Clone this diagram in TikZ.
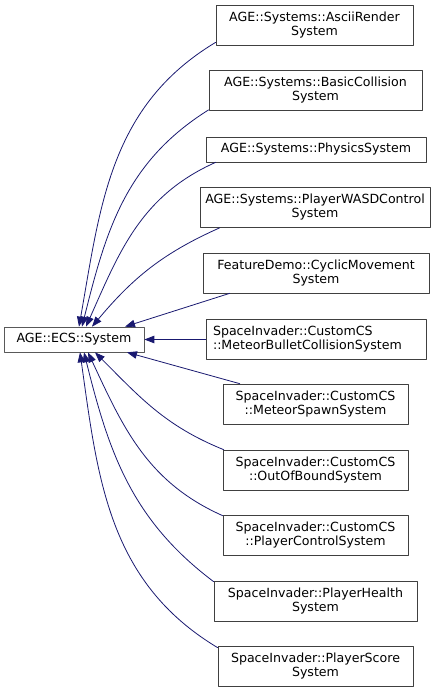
\documentclass[tikz,border=0pt]{standalone}
\usepackage{fontspec}
\setmainfont{DejaVu Sans}
\usetikzlibrary{arrows.meta}
\definecolor{edgeblue}{HTML}{191970}
\newcommand{\classfont}{\fontsize{12.6}{14}\selectfont}
\tikzset{
  cls/.style={draw=black!75,line width=0.7pt,fill=white,inner sep=1pt,
    font=\classfont,align=center,minimum height=40pt},
  inh/.style={draw=edgeblue,line width=0.8pt,
    -{Triangle[length=10pt,width=7.5pt]}}
}
\begin{document}
\begin{tikzpicture}[x=1pt,y=1pt,line cap=round,line join=round]
  \useasboundingbox (0,0) rectangle (445,-692);
  % base class
  \node[cls,draw=black!65,minimum width=140pt,minimum height=25pt] (base) at (74,-339.5) {AGE::ECS::System};
  % derived classes
  \node[cls,minimum width=197pt] (ascii) at (314.5,-25) {AGE::Systems::AsciiRender\\System};
  \node[cls,minimum width=213pt] (basic) at (315.5,-90.5) {AGE::Systems::BasicCollision\\System};
  \node[cls,minimum width=220pt,minimum height=25pt] (physics) at (316,-149.5) {AGE::Systems::PhysicsSystem};
  \node[cls,minimum width=230pt] (wasd) at (315,-207.5) {AGE::Systems::PlayerWASDControl\\System};
  \node[cls,minimum width=226pt] (cyclic) at (316,-273) {FeatureDemo::CyclicMovement\\System};
  \node[cls,minimum width=220pt,align=left,text width=206pt] (bullet) at (316,-339.5) {SpaceInvader::CustomCS\\::MeteorBulletCollisionSystem};
  \node[cls,minimum width=185pt] (spawn) at (315.5,-404) {SpaceInvader::CustomCS\\::MeteorSpawnSystem};
  \node[cls,minimum width=185pt] (bound) at (315.5,-470) {SpaceInvader::CustomCS\\::OutOfBoundSystem};
  \node[cls,minimum width=185pt] (control) at (315.5,-535) {SpaceInvader::CustomCS\\::PlayerControlSystem};
  \node[cls,minimum width=203pt] (health) at (315.5,-601) {SpaceInvader::PlayerHealth\\System};
  \node[cls,minimum width=195pt] (score) at (315.5,-666) {SpaceInvader::PlayerScore\\System};
  % inheritance edges
  \draw[inh] ([yshift=3pt]ascii.south west) to[out=211,in=80] ([xshift=5pt]base.north);
  \draw[inh] ([yshift=1pt]basic.south west) to[out=212,in=76] ([xshift=8pt]base.north);
  \draw[inh] ([xshift=10pt]physics.south west) to[out=204,in=66] ([xshift=12pt]base.north);
  \draw[inh] ([xshift=20pt]wasd.south west) to[out=204,in=50] ([xshift=18pt]base.north);
  \draw[inh] ([xshift=27pt]cyclic.south west) -- ([xshift=51pt]base.north);
  \draw[inh] (bullet.west) -- (base.east);
  \draw[inh] ([xshift=17pt]spawn.north west) -- ([xshift=53pt]base.south);
  \draw[inh] ([xshift=1pt]bound.north west) to[out=158,in=-45] ([xshift=21pt]base.south);
  \draw[inh] ([yshift=-1pt]control.north west) to[out=156,in=-65] ([xshift=14pt]base.south);
  \draw[inh] ([yshift=-1pt]health.north west) to[out=143,in=-76] ([xshift=10pt]base.south);
  \draw[inh] ([yshift=-2pt]score.north west) to[out=149,in=-82] ([xshift=6pt]base.south);
\end{tikzpicture}
\end{document}
